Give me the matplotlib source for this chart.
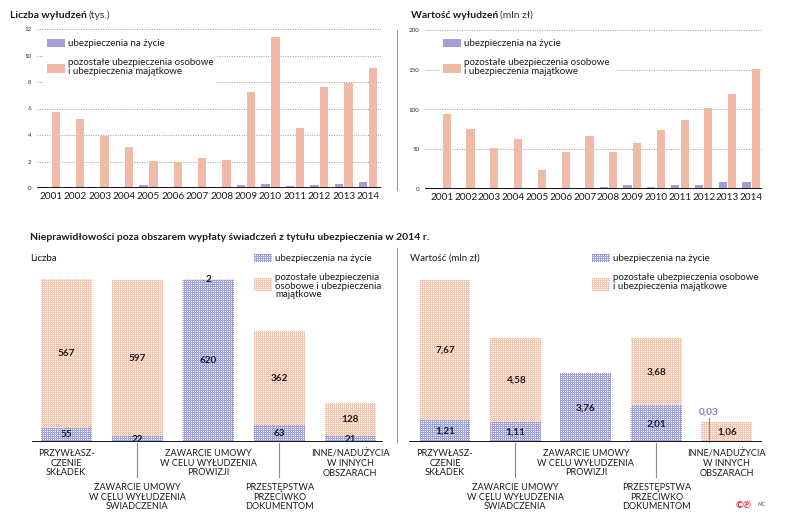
import numpy as np
import matplotlib.pyplot as plt
import matplotlib.transforms as mtransforms
from matplotlib.colors import to_rgb
from matplotlib.patches import Rectangle

plt.rcParams['font.family'] = ['Lato', 'DejaVu Sans']

# dane - wyłudzenia 2001-2014
lata = [str(r) for r in range(2001, 2015)]
liczba_zycie = [0, 0, 0, 0, 0.25, 0.02, 0.07, 0.02, 0.22, 0.3, 0.12, 0.2, 0.3, 0.45]
liczba_pozostale = [5.7, 5.2, 3.95, 3.1, 2.06, 2.0, 2.26, 2.14, 7.22, 11.37, 4.55, 7.65, 7.9, 9.06]
wartosc_zycie = [0, 0, 0, 0.5, 0, 0.8, 0.3, 2.5, 4.5, 2.5, 5.5, 5.5, 8.5, 9]
wartosc_pozostale = [94, 75, 52, 63, 23.5, 47, 67, 46.5, 58, 74, 87, 102, 119, 151]

# dane - nieprawidłowości 2014
kategorie = ["PRZYWŁASZ-\nCZENIE\nSKŁADEK",
             "ZAWARCIE UMOWY\nW CELU WYŁUDZENIA\nŚWIADCZENIA",
             "ZAWARCIE UMOWY\nW CELU WYŁUDZENIA\nPROWIZJI",
             "PRZESTĘPSTWA\nPRZECIWKO\nDOKUMENTOM",
             "INNE/NADUŻYCIA\nW INNYCH\nOBSZARACH"]
n_zycie = [55, 22, 620, 63, 21]
n_pozostale = [567, 597, 2, 362, 128]
w_zycie = [1.21, 1.11, 3.76, 2.01, 0.03]
w_pozostale = [7.67, 4.58, 0, 3.68, 1.06]

ORANGE = '#f0bba6'
PURPLE = '#a99bd3'
DOT_OR = '#f4c8b7'
DOT_BL = '#9ea2d8'
TXT = '#1c1c1c'

W, H = 788, 523
fig = plt.figure(figsize=(W / 100, H / 100), dpi=100)
kratki = np.zeros((H, W, 4))  # warstwa z deseniem słupków dolnych


def fx(x):
    return x / W


def fy(y):
    return 1 - y / H


def axes_px(l, t, r, b):
    return fig.add_axes([l / W, 1 - b / H, (r - l) / W, (b - t) / H])


def rect_px(x0, y0, x1, y1, **kw):
    fig.add_artist(Rectangle((fx(x0), fy(y1)), (x1 - x0) / W, (y1 - y0) / H,
                             transform=fig.transFigure, **kw))


def maluj(x0, y0, x1, y1, color):
    # drobna kratka jak w oryginale (współrzędne w pikselach, od góry)
    if x1 <= x0 or y1 <= y0:
        return
    yy, xx = np.mgrid[y0:y1, x0:x1]
    blok = np.ones((y1 - y0, x1 - x0, 4))
    blok[((yy % 2) == 0) | ((xx % 2) == 0), :3] = to_rgb(color)
    kratki[y0:y1, x0:x1] = blok


def title_px(x, y, bold, rest, size=7.5):
    t = fig.text(fx(x), fy(y), bold, fontsize=size, fontweight='bold', color=TXT, va='center')
    r = fig.canvas.get_renderer()
    bb = t.get_window_extent(r)
    fig.text(bb.x1 / W + 0.002, fy(y), rest, fontsize=size, color='#333333', va='center')


def top_chart(ax, zycie, pozostale, ymax, ticks, xl):
    x = list(range(len(lata)))
    for yv in ticks[1:]:
        ax.axhline(yv, color='#9a9a9a', lw=0.7, ls=(0, (1, 1.5)), zorder=0)
    ax.bar([i - 0.2 for i in x], zycie, width=0.34, color=PURPLE, zorder=2)
    ax.bar([i + 0.2 for i in x], pozostale, width=0.34, color=ORANGE, zorder=2)
    ax.axhline(0, color='#111111', lw=1.4, zorder=3)
    ax.set_ylim(0, ymax)
    ax.set_xlim(*xl)
    ax.set_yticks(ticks)
    ax.set_yticklabels([str(t) for t in ticks], fontsize=4.5, color='#333333')
    ax.set_xticks(x)
    ax.set_xticklabels(lata, fontsize=7.2, color=TXT)
    ax.tick_params(length=0, pad=3)
    ax.tick_params(axis='y', pad=4)
    for s in ax.spines.values():
        s.set_visible(False)
    ax.patch.set_alpha(0)


# --- górne wykresy ---
ax1 = axes_px(37, 29, 381, 188)
top_chart(ax1, liczba_zycie, liczba_pozostale, 12, [0, 2, 4, 6, 8, 10, 12], (-0.57, 13.53))
ax2 = axes_px(425, 30, 762, 189)
top_chart(ax2, wartosc_zycie, wartosc_pozostale, 200, [0, 50, 100, 150, 200], (-0.71, 13.45))

title_px(10, 15, "Liczba wyłudzeń", "(tys.)")
title_px(411, 15, "Wartość wyłudzeń", "(mln zł)")

for (lx, box_r, box_b) in [(47, 216, 85), (443, 616, 78)]:
    rect_px(lx - 4, 34, box_r, box_b, facecolor='white', edgecolor='none', zorder=1)
    rect_px(lx, 39, lx + 18, 47, facecolor=PURPLE, edgecolor='none', zorder=2)
    rect_px(lx, 64, lx + 18, 73, facecolor=ORANGE, edgecolor='none', zorder=2)
    fig.text(fx(lx + 21), fy(43), "ubezpieczenia na życie", fontsize=7, color=TXT, va='center', zorder=3)
    fig.text(fx(lx + 21), fy(58), "pozostałe ubezpieczenia osobowe\ni ubezpieczenia majątkowe",
             fontsize=7, color=TXT, va='top', linespacing=0.95, zorder=3)

fig.add_artist(plt.Line2D([fx(397), fx(397)], [fy(30), fy(190)], color='#999999', lw=0.8))

# --- dolne wykresy ---
fig.text(fx(30), fy(237), "Nieprawidłowości poza obszarem wypłaty świadczeń z tytułu ubezpieczenia w 2014 r.",
         fontsize=7.5, fontweight='bold', color=TXT, va='center')


def fmt_n(v):
    return str(v)


def fmt_w(v):
    return f"{v:.2f}".replace('.', ',')


def bottom_chart(ax, zycie, pozostale, ymax, xl, fmt, small_life=None):
    x = list(range(len(kategorie)))
    b1 = ax.bar(x, zycie, width=0.72, facecolor='none', lw=0, zorder=2)
    b2 = ax.bar(x, pozostale, bottom=zycie, width=0.72, facecolor='none', lw=0, zorder=2)
    ax.axhline(0, color='#111111', lw=1.4, zorder=3)
    ax.set_ylim(0, ymax)
    ax.set_xlim(*xl)
    ax.axis('off')
    ax.patch.set_visible(False)
    r = fig.canvas.get_renderer()
    for bars, col in [(b1, DOT_BL), (b2, DOT_OR)]:
        for p in bars:
            bb = p.get_window_extent(r)
            maluj(int(round(bb.x0)), int(round(H - bb.y1)), int(round(bb.x1)),
                  int(round(H - bb.y0)), col)
    for i in x:
        if zycie[i] > 0 and i != small_life:
            ax.text(i, zycie[i] / 2, fmt(zycie[i]), ha='center', va='center', fontsize=7.2,
                    fontweight='bold', color=TXT, zorder=4)
        if pozostale[i] > 0:
            ax.text(i, zycie[i] + pozostale[i] / 2, fmt(pozostale[i]), ha='center', va='center',
                    fontsize=7.2, fontweight='bold', color=TXT, zorder=4)
    tr = mtransforms.blended_transform_factory(ax.transData, fig.transFigure)
    for i in x:
        low = i in (1, 3)
        if low:
            ax.plot([i, i], [fy(443), fy(477)], color='#8a8a8a', lw=0.8, transform=tr, clip_on=False)
        ax.text(i, fy(483 if low else 449), kategorie[i], transform=tr, ha='center', va='top',
                fontsize=6.6, color=TXT, linespacing=1.1)


ax3 = axes_px(32, 250, 383, 442)
bottom_chart(ax3, n_zycie, n_pozostale, 732.7, (-0.48, 4.46), fmt_n)
ax4 = axes_px(409, 250, 762, 442)
bottom_chart(ax4, w_zycie, w_pozostale, 10.52, (-0.51, 4.50), fmt_w, small_life=4)

# adnotacja 0,03
tr4 = mtransforms.blended_transform_factory(ax4.transData, fig.transFigure)
ax4.plot([3.745, 3.745], [fy(442), fy(418)], color='#8a8a8a', lw=0.8, transform=tr4, clip_on=False)
ax4.text(3.745, fy(412), fmt_w(w_zycie[4]), transform=tr4, ha='center', va='center',
         fontsize=7.2, fontweight='bold', color='#8d78be')

fig.text(fx(30), fy(258), "Liczba", fontsize=7, color=TXT, va='center')
fig.text(fx(410), fy(258), "Wartość (mln zł)", fontsize=7, color=TXT, va='center')

for (lx, txt) in [(254, "pozostałe ubezpieczenia\nosobowe i ubezpieczenia\nmajątkowe"),
                  (592, "pozostałe ubezpieczenia osobowe\ni ubezpieczenia majątkowe")]:
    maluj(lx, 254, lx + 18, 262, DOT_BL)
    maluj(lx, 278, lx + 18, 291, DOT_OR)
    fig.text(fx(lx + 21), fy(258), "ubezpieczenia na życie", fontsize=7, color=TXT, va='center')
    fig.text(fx(lx + 21), fy(273), txt, fontsize=7, color=TXT, va='top', linespacing=0.95)

fig.figimage(kratki, xo=0, yo=0, origin='upper', zorder=-1)

fig.add_artist(plt.Line2D([fx(397), fx(397)], [fy(248), fy(442)], color='#999999', lw=0.8))

fig.text(fx(736), fy(505), "©℗", fontsize=7, fontweight='bold', color='#e0303a', va='center')
fig.text(fx(758), fy(505), "MC", fontsize=3.5, color='#444444', va='center')

fig.savefig('out.png', dpi=100)
